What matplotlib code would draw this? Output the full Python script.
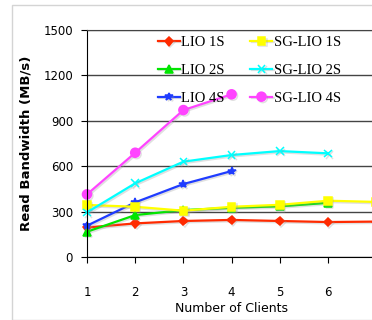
import matplotlib
matplotlib.use('Agg')
import matplotlib.pyplot as plt
import matplotlib.patheffects as pe
from matplotlib.patches import Rectangle

# data
clients = [1, 2, 3, 4, 5, 6, 7]
lio_1s = [195, 222, 238, 245, 238, 231, 234]
sg_lio_1s = [344, 332, 306, 332, 345, 372, 364]
lio_2s = [167, 277, 310, 325, 335, 358]
sg_lio_2s = [295, 487, 630, 674, 700, 685]
lio_4s = [207, 361, 482, 568]
sg_lio_4s = [414, 689, 971, 1075]

series = [
    ('LIO 1S', lio_1s, '#ff2a00', 'D', 4.5),
    ('LIO 2S', lio_2s, '#00e600', '^', 5.5),
    ('LIO 4S', lio_4s, '#1f3cff', '*', 6),
    ('SG-LIO 1S', sg_lio_1s, '#ffff00', 's', 5.5),
    ('SG-LIO 2S', sg_lio_2s, '#00ffff', 'x', 5.5),
    ('SG-LIO 4S', sg_lio_4s, '#ff44ff', 'o', 6.5),
]

fig = plt.figure(figsize=(3.72, 3.2), dpi=100)
fig.patches.append(Rectangle((12/372, 0), 1, 1 - 5/320, transform=fig.transFigure,
                             fill=False, edgecolor='#d4d4d4', linewidth=1))

ax = fig.add_axes([87/372, 63/320, 289.2/372, 227/320])
shadow = [pe.SimpleLineShadow(offset=(1.0, -1.0), shadow_color='#999999', alpha=0.3), pe.Normal()]
for name, vals, col, mk, ms in series:
    ax.plot(clients[:len(vals)], vals, color=col, marker=mk, markersize=ms,
            markeredgecolor=col, markeredgewidth=1.1, linewidth=1.6,
            label=name, path_effects=shadow, clip_on=False)

ax.set_xlim(1, 7)
ax.set_ylim(0, 1500)
ax.set_xticks([1, 2, 3, 4, 5, 6])
ax.set_yticks(range(0, 1501, 300))
ax.yaxis.grid(True, color='#444444', linewidth=1)
ax.set_axisbelow(True)
ax.spines['right'].set_visible(False)
ax.spines['top'].set_color('#444444')
ax.tick_params(axis='x', length=4, pad=17, labelsize=8.5)
ax.tick_params(axis='y', length=4, pad=6, labelsize=8.5)
ax.set_xlabel('Number of Clients', fontsize=9, labelpad=2)
ax.set_ylabel('Read Bandwidth (MB/s)', fontsize=9.5, fontweight='bold', labelpad=8)

leg = ax.legend(ncol=2, frameon=False, loc='upper left',
                bbox_to_anchor=(158/372, 1 - 36/320), bbox_transform=fig.transFigure,
                borderaxespad=0, borderpad=0, handlelength=1.5, handletextpad=0.1,
                columnspacing=1.75, labelspacing=1.0,
                prop={'family': 'Liberation Serif', 'size': 10.5})

fig.savefig('out.png', dpi=100)
